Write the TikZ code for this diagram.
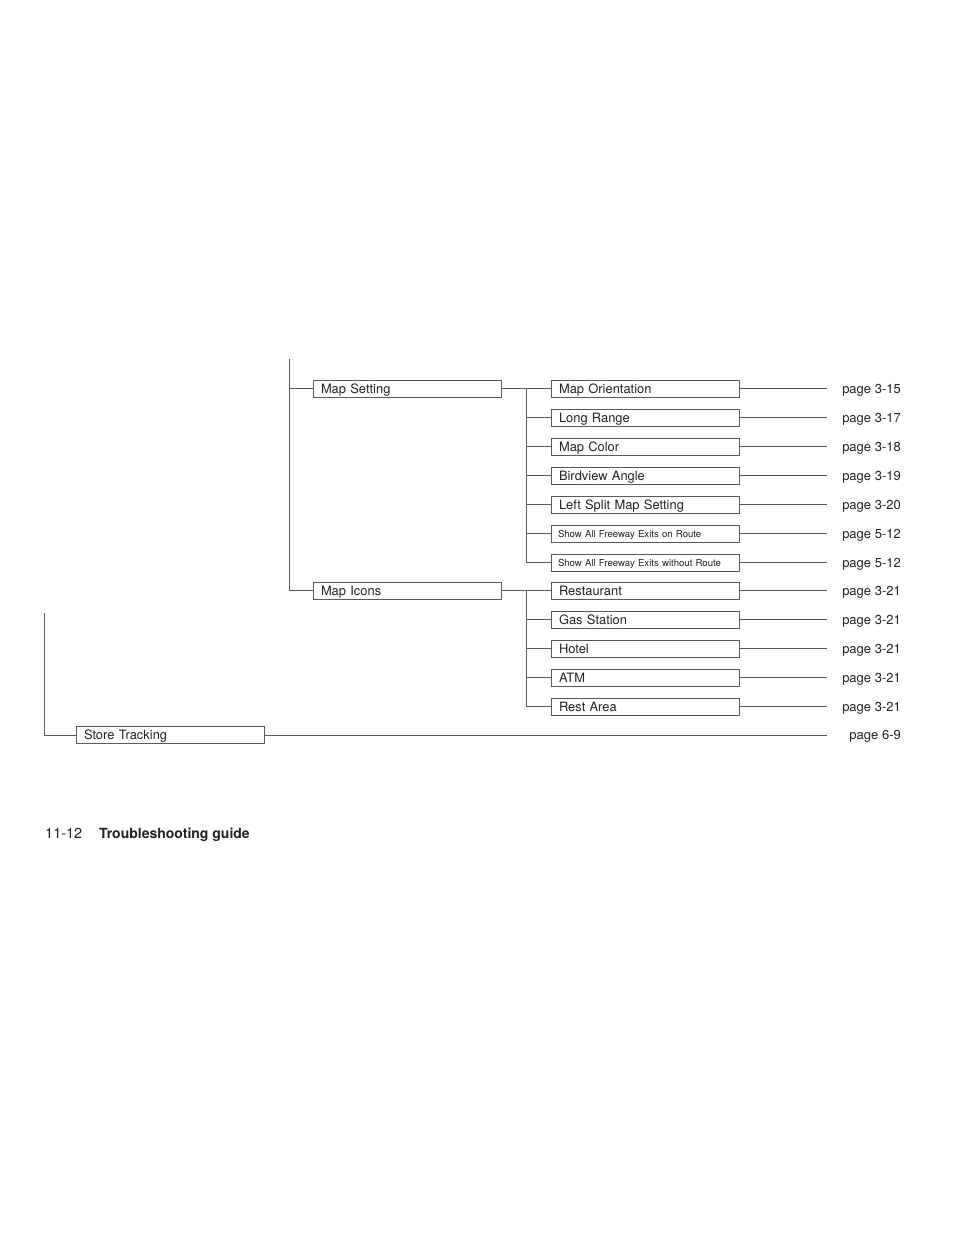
\documentclass[tikz,border=0pt]{standalone}
\usepackage{fontspec}
\setmainfont{TeX Gyre Heros}
\definecolor{lc}{gray}{0.35}
\definecolor{tc}{gray}{0.13}
\begin{document}
\begin{tikzpicture}[x=1pt,y=-1pt,
  conn/.style={draw=lc,line width=1pt},
  box/.style={draw=lc,line width=1pt,anchor=west,inner xsep=7.5pt,inner ysep=0pt,
    minimum height=17pt,text width=173pt,align=left,text height=9.3pt,text depth=0pt,
    text=tc,font=\fontsize{12.9}{14}\selectfont},
  sbox/.style={box,font=\fontsize{9.6}{11}\selectfont,text height=7pt,inner xsep=6.5pt,text width=175pt},
  pg/.style={anchor=base east,inner sep=0pt,text=tc,font=\fontsize{13}{15}\selectfont}]
\useasboundingbox (0,0) rectangle (960,1242);
% coordinates of trunks
\coordinate (top) at (289,359);
\coordinate (low) at (44,613);
\coordinate (b) at (526,0);
\coordinate (r) at (827,0);
% level 1
\node[box] (ms) at (313,388.5) {Map Setting};
\node[box] (mi) at (313,590.5) {Map Icons};
\node[box] (st) at (76,735) {Store Tracking};
% level 2
\node[box] (a1) at (551,388.5) {Map Orientation};
\node[box] (a2) at (551,417.5) {Long Range};
\node[box] (a3) at (551,446.5) {Map Color};
\node[box] (a4) at (551,475.5) {Birdview Angle};
\node[box] (a5) at (551,504.5) {Left Split Map Setting};
\node[sbox] (a6) at (551,533.5) {Show All Freeway Exits on Route};
\node[sbox] (a7) at (551,562.5) {Show All Freeway Exits without Route};
\node[box] (c1) at (551,590.5) {Restaurant};
\node[box] (c2) at (551,619.5) {Gas Station};
\node[box] (c3) at (551,648.5) {Hotel};
\node[box] (c4) at (551,677.5) {ATM};
\node[box] (c5) at (551,706.5) {Rest Area};
% page labels
\foreach \n/\y/\t in {a1/388.5/3-15,a2/417.5/3-17,a3/446.5/3-18,a4/475.5/3-19,a5/504.5/3-20,
  a6/533.5/5-12,a7/562.5/5-12,c1/590.5/3-21,c2/619.5/3-21,c3/648.5/3-21,c4/677.5/3-21,c5/706.5/3-21}{
  \node[pg] (p\n) at (901,\y+4.7) {page \t};
  \draw[conn] (\n.east) -- (\n.east -| r);
}
\node[pg] (pst) at (901,739.7) {page 6-9};
% connectors
\draw[conn] (top) |- (mi.west);
\draw[conn] (ms.west -| top) -- (ms.west);
\draw[conn] (low) |- (st.west);
\draw[conn] (st.east) -- (st.east -| r);
\draw[conn] (ms.east) -- (a1.west);
\draw[conn] (a1.west -| b) |- (a7.west);
\foreach \n in {a2,a3,a4,a5,a6}{\draw[conn] (\n.west -| b) -- (\n.west);}
\draw[conn] (mi.east) -- (c1.west);
\draw[conn] (c1.west -| b) |- (c5.west);
\foreach \n in {c2,c3,c4}{\draw[conn] (\n.west -| b) -- (\n.west);}
% footer
\node[anchor=base west,inner sep=0pt,text=tc,font=\fontsize{14.5}{16}\selectfont] (fn) at (45,838.3) {11-12};
\node[anchor=base west,inner sep=0pt,text=tc,font=\fontsize{14}{16}\selectfont\bfseries] (ft) at (99,838.3) {Troubleshooting guide};
\end{tikzpicture}
\end{document}
